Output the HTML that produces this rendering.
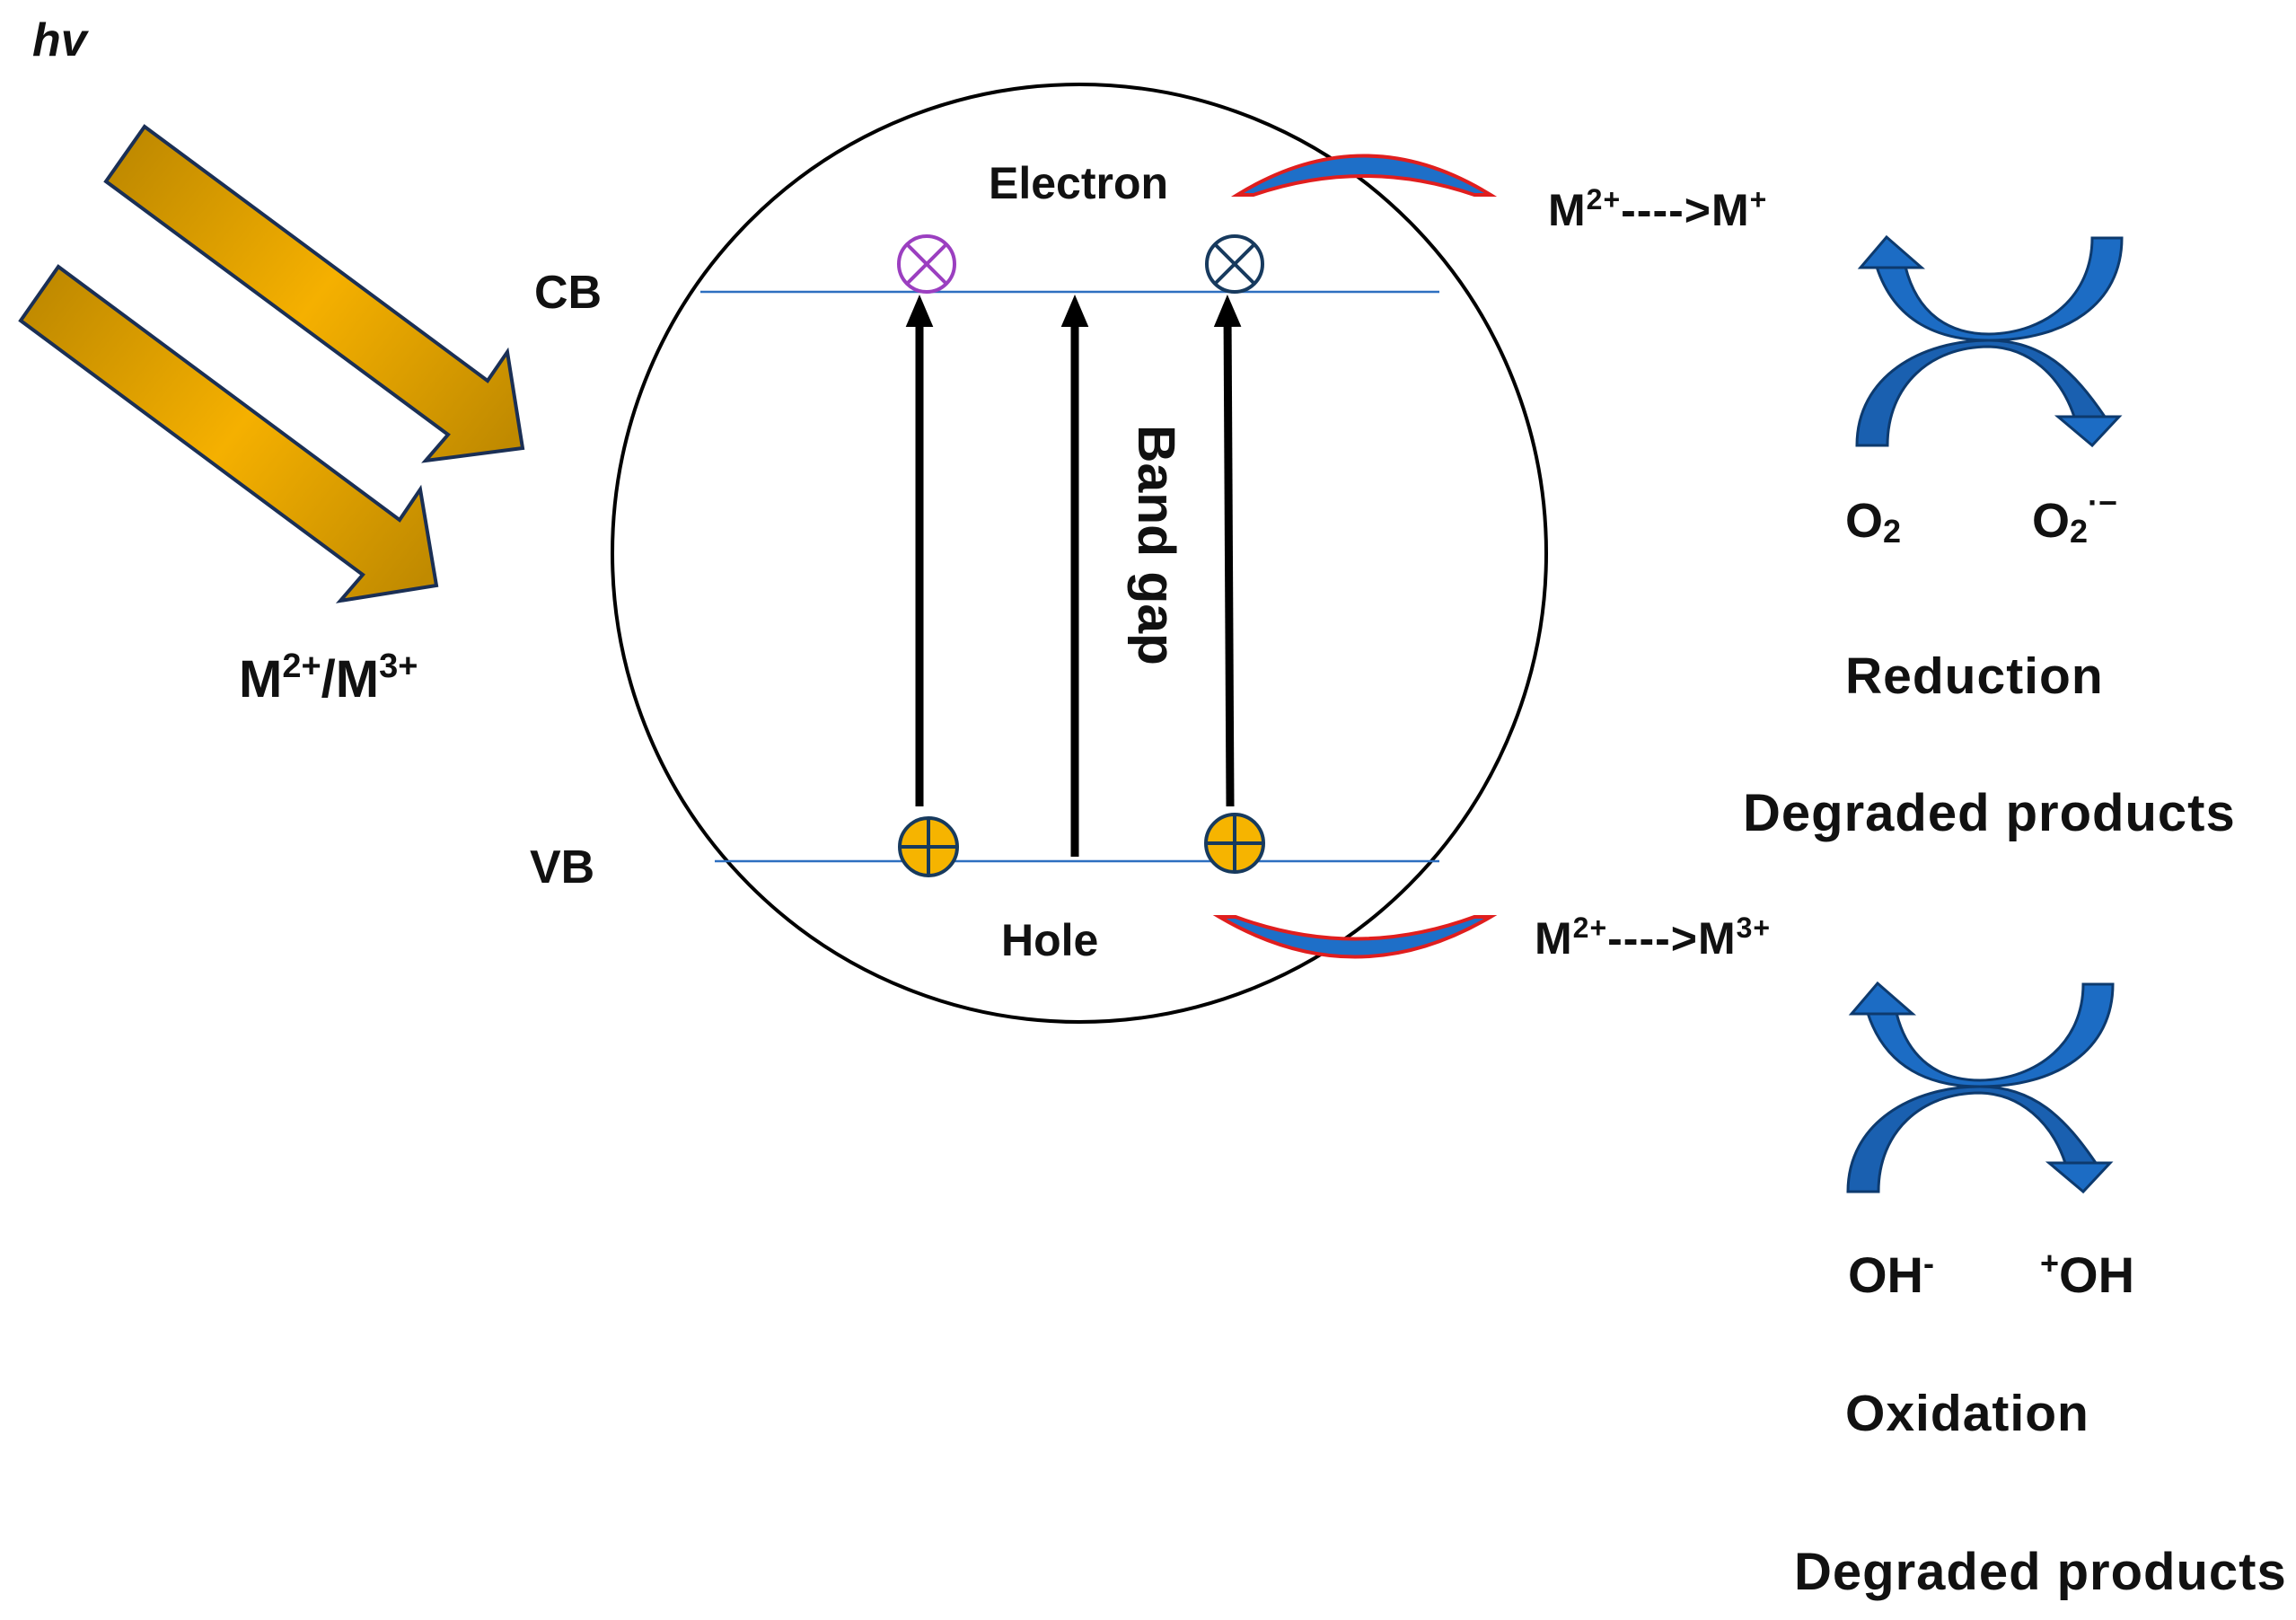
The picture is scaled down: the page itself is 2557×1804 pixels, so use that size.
<!DOCTYPE html>
<html><head><meta charset="utf-8"><style>
html,body{margin:0;padding:0;background:#fff}
svg{display:block}
text{font-family:"Liberation Sans",sans-serif;font-weight:bold;fill:#111}
</style></head><body>
<svg width="2557" height="1804" viewBox="0 0 2557 1804" xmlns="http://www.w3.org/2000/svg">
<defs>
<linearGradient id="g1" gradientUnits="userSpaceOnUse" x1="140" y1="170" x2="560" y2="500">
<stop offset="0" stop-color="#c08a00"/><stop offset="0.5" stop-color="#f5b000"/><stop offset="1" stop-color="#c08a00"/></linearGradient>
<linearGradient id="g2" gradientUnits="userSpaceOnUse" x1="45" y1="325" x2="465" y2="655">
<stop offset="0" stop-color="#c08a00"/><stop offset="0.5" stop-color="#f5b000"/><stop offset="1" stop-color="#c08a00"/></linearGradient>
<marker id="ah" markerWidth="4" markerHeight="4" refX="2" refY="2" orient="auto" markerUnits="strokeWidth"><path d="M0,0.3 L4,2 L0,3.7Z" fill="#000"/></marker>
<g id="xa" stroke="#0d3a6e" stroke-width="3">
<path d="M2080,1128 C2100,1190 2150,1210 2205,1210 C2290,1210 2353,1170 2353,1096 L2320,1096 C2320,1160 2270,1202 2205,1203 C2160,1203 2125,1180 2112,1128 Z" fill="#1c6cc4"/>
<path d="M2058,1327 C2058,1250 2130,1210 2205,1210 C2265,1210 2300,1245 2334,1295 L2300,1295 C2285,1250 2250,1218 2205,1217 C2140,1217 2092,1260 2092,1327 Z" fill="#1a60b0"/>
<polygon points="2091,1095 2130,1129 2062,1129" fill="#1c6cc4"/>
<polygon points="2320,1327 2282,1295 2350,1295" fill="#1c6cc4"/>
</g>
</defs>

<text x="36" y="62" font-size="52" font-style="italic">hv</text>

<polygon points="161,141 543,424 565,392 582,499 474,513 499,484 118,202" fill="url(#g1)" stroke="#1a2f55" stroke-width="4"/>
<polygon points="65,297 445,579 468,545 486,652 379,669 404,640 23,357" fill="url(#g2)" stroke="#1a2f55" stroke-width="4"/>

<text x="266" y="776" font-size="58">M<tspan font-size="38" dy="-22">2+</tspan><tspan dy="22">/M</tspan><tspan font-size="38" dy="-22">3+</tspan></text>

<ellipse cx="1202" cy="616" rx="520" ry="522" fill="none" stroke="#000" stroke-width="4"/>

<line x1="780" y1="325" x2="1603" y2="325" stroke="#2d6fc0" stroke-width="2.5"/>
<line x1="796" y1="959" x2="1603" y2="959" stroke="#2d6fc0" stroke-width="2.5"/>

<text x="595" y="343" font-size="52">CB</text>
<text x="590" y="983" font-size="52">VB</text>
<text x="1101" y="221" font-size="50">Electron</text>
<text x="1115" y="1064" font-size="50">Hole</text>

<line x1="1024" y1="898" x2="1024" y2="346" stroke="#000" stroke-width="9" marker-end="url(#ah)"/>
<line x1="1197" y1="954" x2="1197" y2="346" stroke="#000" stroke-width="9" marker-end="url(#ah)"/>
<line x1="1370" y1="898" x2="1367" y2="346" stroke="#000" stroke-width="9" marker-end="url(#ah)"/>

<text transform="translate(1268,473) rotate(90)" font-size="58" textLength="268" lengthAdjust="spacingAndGlyphs">Band gap</text>

<g stroke="#9b3fc0" stroke-width="4" fill="#fff"><circle cx="1032" cy="294" r="31"/><line x1="1010" y1="272" x2="1054" y2="316"/><line x1="1054" y1="272" x2="1010" y2="316"/></g>
<g stroke="#173a5e" stroke-width="4" fill="#fff"><circle cx="1375" cy="294" r="31"/><line x1="1353" y1="272" x2="1397" y2="316"/><line x1="1397" y1="272" x2="1353" y2="316"/></g>
<g stroke="#173a5e" stroke-width="4"><circle cx="1034" cy="943" r="32" fill="#f6b400"/><line x1="1002" y1="943" x2="1066" y2="943"/><line x1="1034" y1="911" x2="1034" y2="975"/></g>
<g stroke="#173a5e" stroke-width="4"><circle cx="1375" cy="939" r="32" fill="#f6b400"/><line x1="1343" y1="939" x2="1407" y2="939"/><line x1="1375" y1="907" x2="1375" y2="971"/></g>

<path d="M1378,217 Q1519,130 1660,217 L1642,217 Q1519,175 1396,217Z" fill="#1e6fc8" stroke="#e01e1e" stroke-width="4"/>
<path d="M1358,1021 Q1509,1110 1660,1021 L1642,1021 Q1509,1070 1376,1021Z" fill="#1e6fc8" stroke="#e01e1e" stroke-width="4"/>

<text x="1724" y="251" font-size="50" letter-spacing="1">M<tspan font-size="32" dy="-18">2+</tspan><tspan dy="18">----&gt;M</tspan><tspan font-size="32" dy="-18">+</tspan></text>
<text x="1709" y="1062" font-size="50" letter-spacing="1">M<tspan font-size="32" dy="-18">2+</tspan><tspan dy="18">----&gt;M</tspan><tspan font-size="32" dy="-18">3+</tspan></text>

<use href="#xa" transform="translate(10,-831)"/>
<use href="#xa"/>

<text x="2055" y="598" font-size="54">O<tspan font-size="36" dy="6">2</tspan></text>
<text x="2263" y="598" font-size="54">O<tspan font-size="36" dy="6">2</tspan><tspan font-size="36" dy="-32">·−</tspan></text>
<text x="2055" y="772" font-size="57" letter-spacing="1">Reduction</text>
<text x="1941" y="925" font-size="58" letter-spacing="1">Degraded products</text>
<text x="2058" y="1439" font-size="56">OH<tspan font-size="36" dy="-20">-</tspan></text>
<text x="2272" y="1439" font-size="56"><tspan font-size="36" dy="-20">+</tspan><tspan dy="20">OH</tspan></text>
<text x="2055" y="1593" font-size="57" letter-spacing="1">Oxidation</text>
<text x="1998" y="1770" font-size="58" letter-spacing="1">Degraded products</text>
</svg>
</body></html>
